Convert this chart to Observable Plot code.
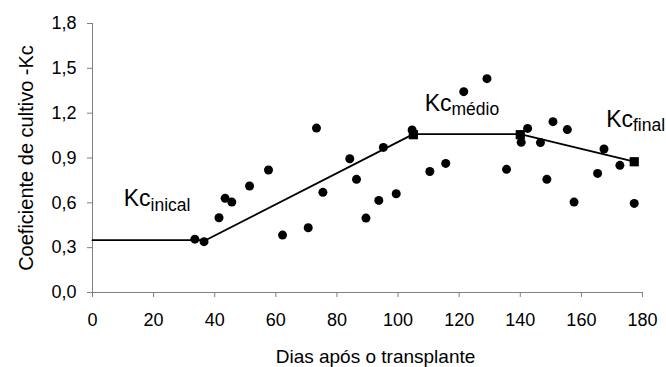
<!DOCTYPE html>
<html>
<head>
<meta charset="utf-8">
<script src="https://cdn.jsdelivr.net/npm/d3@7"></script>
<script src="https://cdn.jsdelivr.net/npm/@observablehq/plot@0.6"></script>
<style>
  html, body { margin: 0; padding: 0; background: #fff; overflow: hidden; }
  #chart svg { display: block; }
</style>
</head>
<body>
<div id="chart"></div>
<script>
// Observed Kc values (days after transplant, Kc)
const obsDays = [33.5, 36.5, 41.4, 43.4, 45.6, 51.4, 57.6, 62.2, 70.6, 73.3, 75.4, 84.2, 86.4, 89.5,
  93.7, 95.2, 99.4, 104.6, 110.4, 115.6, 121.5, 129.1, 135.5, 140.3, 142.4, 146.6, 148.7, 150.7,
  155.4, 157.6, 165.3, 167.4, 172.6, 177.3];
const obsKc = [0.357, 0.34, 0.50, 0.63, 0.605, 0.713, 0.82, 0.384, 0.433, 1.10, 0.67, 0.895, 0.757, 0.498,
  0.616, 0.971, 0.661, 1.088, 0.81, 0.864, 1.344, 1.431, 0.824, 1.005, 1.098, 1.003, 0.757, 1.143,
  1.09, 0.605, 0.797, 0.96, 0.851, 0.596];

// Kc curve (FAO stages)
const curveDays = [0, 37, 105, 140, 177.3];
const curveKc = [0.35, 0.35, 1.06, 1.06, 0.875];

// Stage markers (squares)
const stageDays = [105, 140, 177.3];
const stageKc = [1.056, 1.056, 0.875];

// Stage labels
const labelMain = ["Kc", "Kc", "Kc"];
const labelSub = ["inical", "médio", "final"];
const labelDays = [10.2, 108.7, 168.1];
const labelKc = [0.576, 1.217, 1.11];

// Ticks
const xTicks = [0, 20, 40, 60, 80, 100, 120, 140, 160, 180];
const yTicks = [0, 0.3, 0.6, 0.9, 1.2, 1.5, 1.8];

const xTitle = "Dias após o transplante";
const yTitle = "Coeficiente de cultivo -Kc";

const axisGray = "#808080";

const svg = Plot.plot({
  width: 666,
  height: 367,
  marginLeft: 92,
  marginRight: 24,
  marginTop: 23,
  marginBottom: 75,
  style: { fontFamily: "'Liberation Sans', Arial, sans-serif", fontSize: "18px", color: "black", background: "white" },
  x: { domain: [0, 180] },
  y: { domain: [0, 1.8] },
  marks: [
    Plot.text(labelMain, { x: labelDays, y: labelKc, text: labelMain, textAnchor: "start", lineAnchor: "bottom", fontSize: 23, fill: "black" }),
    Plot.ruleY([0], { stroke: axisGray, strokeWidth: 1 }),
    Plot.ruleX([0], { stroke: axisGray, strokeWidth: 1 }),
    Plot.axisX({ ticks: xTicks, tickSize: 5, tickPadding: 16, stroke: axisGray, fill: "black", label: null, fontSize: 18 }),
    Plot.axisY({ ticks: yTicks, tickSize: 5, tickPadding: 11, stroke: axisGray, fill: "black", label: null, fontSize: 18,
      tickFormat: d => d.toFixed(1).replace(".", ",") }),
    Plot.line(curveDays, { x: curveDays, y: curveKc, stroke: "black", strokeWidth: 1.8 }),
    Plot.dot(obsDays, { x: obsDays, y: obsKc, r: 4.5, fill: "black", stroke: "none" }),
    Plot.dot(stageDays, { x: stageDays, y: stageKc, symbol: "square", r: 5.2, fill: "black", stroke: "none" }),
    Plot.text([xTitle], { frameAnchor: "bottom", dx: 8, dy: 70, textAnchor: "middle", lineAnchor: "bottom", fontSize: 19, fill: "black" }),
    Plot.text([yTitle], { frameAnchor: "left", dx: -60, rotate: -90, textAnchor: "middle", lineAnchor: "bottom", fontSize: 20, fill: "black" })
  ]
});

// Add subscripts to the stage labels
const labelGroup = d3.select(svg).selectAll('g[aria-label="text"]').filter((d, i) => i === 0);
labelGroup.selectAll("text").each(function (_, i) {
  d3.select(this).append("tspan").attr("dy", 4.5).attr("font-size", 17.5).text(labelSub[i]);
});

document.getElementById("chart").appendChild(svg);
</script>
</body>
</html>
